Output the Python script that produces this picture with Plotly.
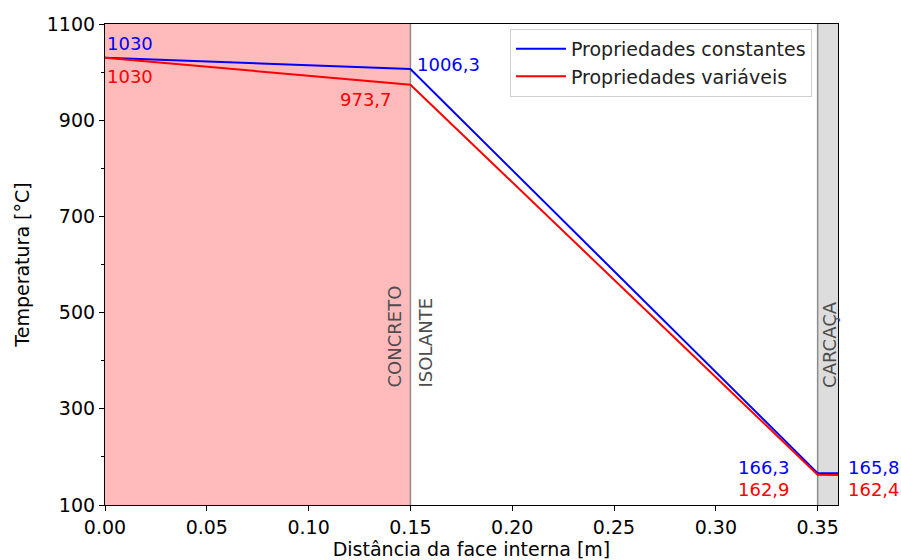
import plotly.graph_objects as go

x = [0.0, 0.15, 0.35, 0.36]
const = [1030, 1006.3, 166.3, 165.8]
var = [1030, 973.7, 162.9, 162.4]
xticks = [0.0, 0.05, 0.10, 0.15, 0.20, 0.25, 0.30, 0.35]
yticks = [100, 300, 500, 700, 900, 1100]
yminor = [200, 400, 600, 800, 1000]

FONT = "DejaVu Sans"
BLUE = "#0000ff"
RED = "#ff0000"

fig = go.Figure()
fig.add_trace(go.Scatter(x=x, y=const, mode="lines", name="Propriedades constantes",
                         line=dict(color=BLUE, width=2)))
fig.add_trace(go.Scatter(x=x, y=var, mode="lines", name="Propriedades variáveis",
                         line=dict(color=RED, width=2)))

# regions
fig.add_shape(type="rect", x0=0, x1=0.15, y0=0, y1=1, yref="paper", xref="x",
              fillcolor="rgb(255,187,187)", line_width=0, layer="below")
fig.add_shape(type="rect", x0=0.35, x1=0.36, y0=0, y1=1, yref="paper", xref="x",
              fillcolor="rgb(221,221,221)", line_width=0, layer="below")
for xv in [0.15, 0.35]:
    fig.add_shape(type="line", x0=xv, x1=xv, y0=0, y1=1, yref="paper", xref="x",
                  line=dict(color="#8c8c8c", width=1.5), layer="below")

def ann(xv, yv, text, color, xa, ya, xs=0, ys=0, angle=0, size=18):
    fig.add_annotation(x=xv, y=yv, text=text, showarrow=False, xanchor=xa, yanchor=ya,
                       xshift=xs, yshift=ys, textangle=angle,
                       font=dict(family=FONT, size=size, color=color))

# value labels
ann(x[0], const[0], "1030", BLUE, "left", "bottom", 0, 2)
ann(x[0], var[0], "1030", RED, "left", "top", 0, -6)
ann(x[1], const[1], "1006,3", BLUE, "left", "middle", 5, 5)
ann(x[1], var[1], "973,7", RED, "right", "top", -16, -2)
ann(x[2], const[2], "166,3", BLUE, "right", "bottom", -26, -7)
ann(x[2], var[2], "162,9", RED, "right", "top", -26, -2)
ann(x[3], const[3], "165,8", BLUE, "left", "bottom", 8, -7)
ann(x[3], var[3], "162,4", RED, "left", "top", 8, -2)

# region labels
ann(0.15, 340, "CONCRETO", "#4d4d4d", "right", "bottom", -3, 0, -90, 18)
ann(0.15, 340, "ISOLANTE", "#4d4d4d", "left", "bottom", 3, 0, -90, 18)
ann(0.355, 340, "CARCAÇA", "#4d4d4d", "center", "bottom", 1, 0, -90, 18)

fig.update_layout(
    width=901, height=560,
    margin=dict(l=105, r=63, t=24, b=55),
    plot_bgcolor="white", paper_bgcolor="white",
    font=dict(family=FONT, size=19, color="black"),
    showlegend=True,
    legend=dict(x=0.9645, y=0.99, xanchor="right", yanchor="top",
                bgcolor="rgba(255,255,255,0.9)", bordercolor="#d0d0d0", borderwidth=1,
                font=dict(family=FONT, size=19, color="#222"), tracegroupgap=0,
                itemwidth=50),
)
fig.update_xaxes(range=[0, 0.36], tickvals=xticks, ticktext=[f"{v:.2f}" for v in xticks],
                 ticks="outside", ticklen=5, tickcolor="black", showgrid=False, zeroline=False,
                 showline=True, linecolor="black", linewidth=1.2, mirror=True, automargin=False,
                 title=dict(text="Distância da face interna [m]", standoff=2,
                            font=dict(family=FONT, size=19)),
                 tickfont=dict(family=FONT, size=19))
fig.update_yaxes(range=[100, 1100], tickvals=yticks,
                 ticks="outside", ticklen=5, tickcolor="black", showgrid=False, zeroline=False,
                 showline=True, linecolor="black", linewidth=1.2, mirror=True, automargin=False,
                 minor=dict(tickvals=yminor, ticks="outside", ticklen=3, tickcolor="black"),
                 title=dict(text="Temperatura [°C]", standoff=12,
                            font=dict(family=FONT, size=19)),
                 tickfont=dict(family=FONT, size=19))

fig.write_html("out.html")
